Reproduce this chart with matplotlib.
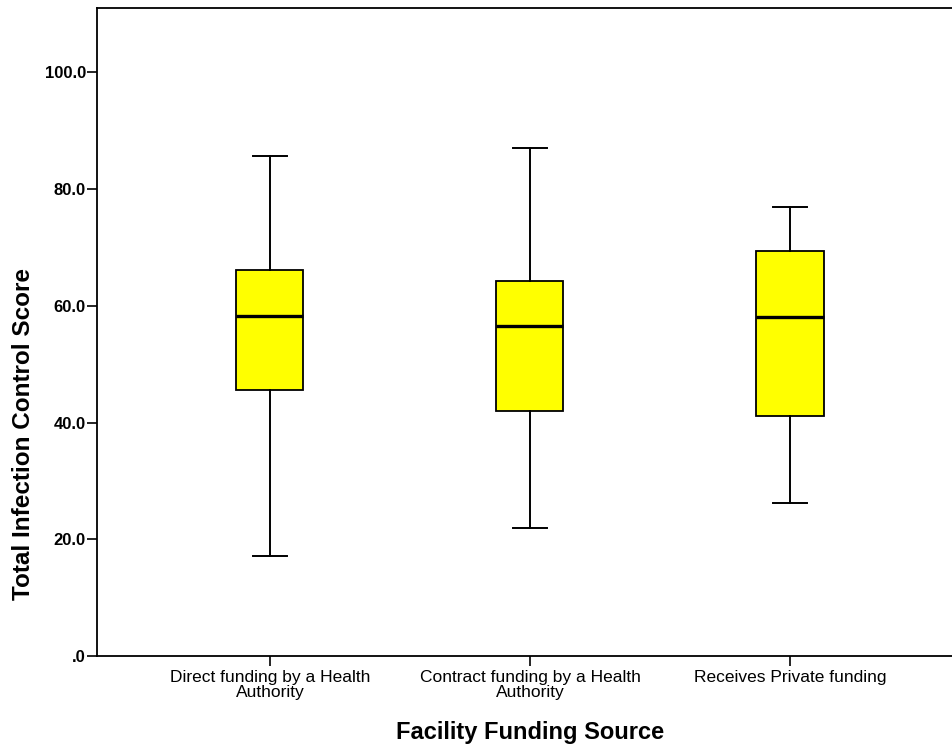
import matplotlib.pyplot as plt

plt.rcParams["font.family"] = ["Liberation Sans", "DejaVu Sans"]

# Category labels and five-number summaries
categories = [
    "Direct funding by a Health\nAuthority",
    "Contract funding by a Health\nAuthority",
    "Receives Private funding",
]
whisker_low = [17.2, 22.0, 26.2]
q1 = [45.6, 42.0, 41.2]
median = [58.3, 56.6, 58.0]
q3 = [66.2, 64.3, 69.3]
whisker_high = [85.6, 87.0, 77.0]

yticks = [0, 20, 40, 60, 80, 100]
ytick_labels = [".0", "20.0", "40.0", "60.0", "80.0", "100.0"]

stats = []
for i in range(len(categories)):
    stats.append({
        "whislo": whisker_low[i],
        "q1": q1[i],
        "med": median[i],
        "q3": q3[i],
        "whishi": whisker_high[i],
        "fliers": [],
    })

fig = plt.figure(figsize=(9.53, 7.5), dpi=100)
ax = fig.add_axes([0.1018, 0.1253, 0.8982, 0.8640])

positions = range(1, len(categories) + 1)
ax.bxp(
    stats,
    positions=positions,
    widths=0.258,
    capwidths=0.13,
    patch_artist=True,
    showfliers=False,
    boxprops=dict(facecolor="#ffff00", edgecolor="black", linewidth=1.3),
    medianprops=dict(color="black", linewidth=2.4),
    whiskerprops=dict(color="black", linewidth=1.4),
    capprops=dict(color="black", linewidth=1.4),
)

ax.set_xlim(0.335, 3.627)
ax.set_ylim(0, 111)
ax.spines["right"].set_visible(False)
for s in ["left", "top", "bottom"]:
    ax.spines[s].set_linewidth(1.3)

ax.set_xticks(list(positions))
ax.set_xticklabels(categories, fontsize=12.5, linespacing=1.0)
ax.set_yticks(yticks)
ax.set_yticklabels(ytick_labels, fontsize=12, fontweight="bold")
ax.tick_params(axis="x", direction="out", length=7, width=1.2, pad=3)
ax.tick_params(axis="y", direction="out", length=7, width=1.2, pad=1)

ax.set_xlabel("Facility Funding Source", fontsize=17, fontweight="bold")
ax.set_ylabel("Total Infection Control Score", fontsize=17.5, fontweight="bold")
# SPSS places the titles off-centre: x under the middle group, y below the middle
ax.xaxis.set_label_coords(0.5058, -0.101)
ax.yaxis.set_label_coords(-0.072, 0.343)

fig.savefig("out.png", dpi=100)
